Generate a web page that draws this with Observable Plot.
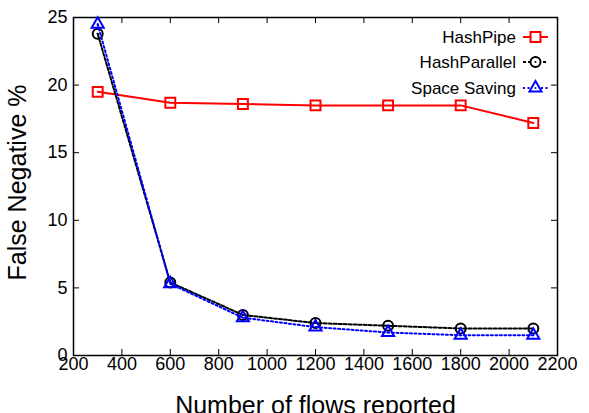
<!DOCTYPE html>
<html>
<head>
<meta charset="utf-8">
<script src="https://cdn.jsdelivr.net/npm/d3@7"></script>
<script src="https://cdn.jsdelivr.net/npm/@observablehq/plot@0.6"></script>
<style>
  html, body { margin: 0; padding: 0; background: #fff; }
  svg { font-family: "Liberation Sans", Arial, Helvetica, sans-serif; }
</style>
</head>
<body>
<div id="chart"></div>
<script>
const flows = [300, 600, 900, 1200, 1500, 1800, 2100];
const hashPipe = [19.5, 18.7, 18.6, 18.5, 18.5, 18.5, 17.2];
const hashParallel = [23.8, 5.4, 3.0, 2.4, 2.2, 2.0, 2.0];
const spaceSaving = [24.5, 5.3, 2.8, 2.1, 1.7, 1.5, 1.5];
const seriesNames = ["HashPipe", "HashParallel", "Space Saving"];
const xTicks = [200, 400, 600, 800, 1000, 1200, 1400, 1600, 1800, 2000, 2200];
const yTicks = [0, 5, 10, 15, 20, 25];
const xTitle = "Number of flows reported";
const yTitle = "False Negative %";

const toRows = (vals, name) => flows.map((f, i) => ({x: f, y: vals[i], s: name}));
const dHP = toRows(hashPipe, seriesNames[0]);
const dPar = toRows(hashParallel, seriesNames[1]);
const dSS = toRows(spaceSaving, seriesNames[2]);

const W = 589, H = 413, mL = 73, mR = 32, mT = 17, mB = 58;
const frameW = W - mL - mR, frameH = H - mT - mB;
const tk = 6;

const chart = Plot.plot({
  width: W, height: H,
  marginLeft: mL, marginRight: mR, marginTop: mT, marginBottom: mB,
  style: {fontFamily: '"Liberation Sans", Arial, sans-serif', fontSize: "18px", color: "#000", background: "#fff", overflow: "hidden"},
  x: {domain: [200, 2200]},
  y: {domain: [0, 25]},
  marks: [
    Plot.axisX(xTicks, {tickSize: 0, tickPadding: 2, label: null, fontSize: 18, tickFormat: d => String(d)}),
    Plot.axisY(yTicks, {tickSize: 0, tickPadding: 6, label: null, fontSize: 18, tickFormat: d => String(d)}),
    Plot.tickX(xTicks, {x: d => d, insetTop: frameH - tk, stroke: "#000", strokeWidth: 1}),
    Plot.tickX(xTicks, {x: d => d, insetBottom: frameH - tk, stroke: "#000", strokeWidth: 1}),
    Plot.tickY(yTicks, {y: d => d, insetRight: frameW - tk, stroke: "#000", strokeWidth: 1}),
    Plot.tickY(yTicks, {y: d => d, insetLeft: frameW - tk, stroke: "#000", strokeWidth: 1}),
    Plot.frame({stroke: "#000", strokeWidth: 1.5}),
    // HashPipe
    Plot.line(dHP, {x: "x", y: "y", stroke: "#ff0000", strokeWidth: 2}),
    Plot.dot(dHP, {x: "x", y: "y", symbol: "square", r: 5.6, stroke: "#ff0000", strokeWidth: 2, fill: "none"}),
    // HashParallel
    Plot.line(dPar, {x: "x", y: "y", stroke: "#000", strokeWidth: 2, strokeDasharray: "3,2"}),
    Plot.dot(dPar, {x: "x", y: "y", symbol: "circle", r: 5, stroke: "#000", strokeWidth: 2, fill: "none"}),
    Plot.dot(dPar, {x: "x", y: "y", symbol: "circle", r: 1, fill: "#000"}),
    // Space Saving
    Plot.line(dSS, {x: "x", y: "y", stroke: "#0000ff", strokeWidth: 2, strokeDasharray: "2,2.5"}),
    Plot.dot(dSS, {x: "x", y: "y", symbol: "triangle", r: 4.5, stroke: "#0000ff", strokeWidth: 2, fill: "none"}),
    Plot.dot(dSS, {x: "x", y: "y", symbol: "circle", r: 1, fill: "#0000ff"}),
    // axis titles
    Plot.text([xTitle], {frameAnchor: "bottom", dy: 58, lineAnchor: "bottom", textAnchor: "middle", fontSize: 25, fill: "#000", text: d => d}),
    Plot.text([yTitle], {frameAnchor: "left", dx: -56, dy: -4, rotate: -90, lineAnchor: "middle", textAnchor: "middle", fontSize: 25, fill: "#000", text: d => d})
  ]
});
document.getElementById("chart").appendChild(chart);

// Legend (inside top-right)
const svg = d3.select(chart);
const legendStyles = [
  {stroke: "#ff0000", dash: null, symbol: d3.symbolSquare, r: 5.6},
  {stroke: "#000", dash: "3,2", symbol: d3.symbolCircle, r: 5},
  {stroke: "#0000ff", dash: "2,2.5", symbol: d3.symbolTriangle, r: 4.5}
];
const rowY = [37, 62, 88];
const textRight = 516, lineX1 = 523, lineX2 = 548, markX = 535.5;
const lg = svg.append("g");
seriesNames.forEach((name, i) => {
  const st = legendStyles[i];
  lg.append("text").attr("x", textRight).attr("y", rowY[i]).attr("dy", "0.35em")
    .attr("text-anchor", "end").attr("font-size", 17).attr("fill", "#000").text(name);
  lg.append("line").attr("x1", lineX1).attr("x2", lineX2).attr("y1", rowY[i]).attr("y2", rowY[i])
    .attr("stroke", st.stroke).attr("stroke-width", 2).attr("stroke-dasharray", st.dash);
  lg.append("path").attr("d", d3.symbol(st.symbol, Math.PI * st.r * st.r)())
    .attr("transform", `translate(${markX},${rowY[i]})`)
    .attr("fill", "#fff").attr("stroke", st.stroke).attr("stroke-width", 2);
  if (i > 0) lg.append("circle").attr("cx", markX).attr("cy", rowY[i]).attr("r", 1).attr("fill", st.stroke);
});
</script>
</body>
</html>
